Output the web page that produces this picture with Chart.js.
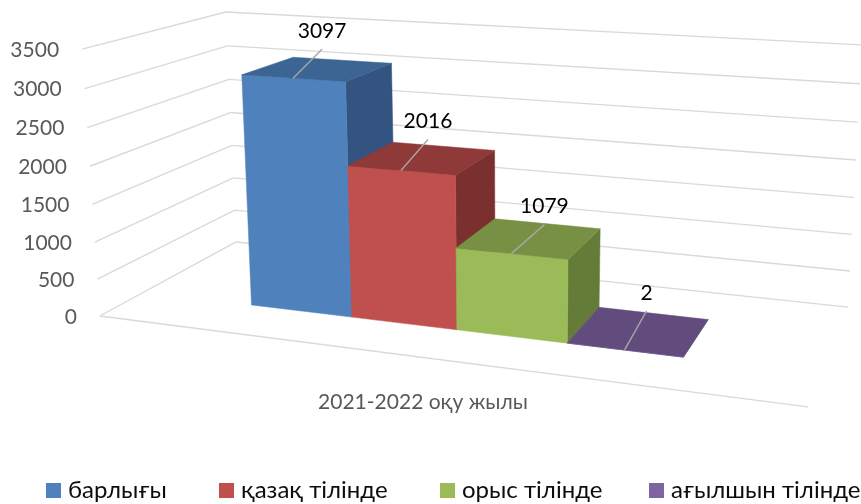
<!DOCTYPE html>
<html>
<head>
<meta charset="utf-8">
<style>
html, body { margin: 0; padding: 0; background: #fff; }
#wrap { width: 861px; height: 504px; }
</style>
<script src="https://cdn.jsdelivr.net/npm/chart.js@4"></script>
</head>
<body>
<div id="wrap"><canvas id="chart" width="861" height="504"></canvas></div>
<script>
var categories = ["2021-2022 оқу жылы"];
var seriesNames = ["барлығы", "қазақ тілінде", "орыс тілінде", "ағылшын тілінде"];
var seriesValues = [3097, 2016, 1079, 2];
var yTicks = [0, 500, 1000, 1500, 2000, 2500, 3000, 3500];

//Styles
var frontColors = ["#4F81BD", "#C0504D", "#9BBB59", "#8064A2"];
var topColors = ["#3D6594", "#8F3A38", "#789043", "#624C7E"];
var sideColors = ["#335481", "#7A302F", "#657C38", "#53406B"];
var leaderOffsets = [[29, -29], [27, -31], [33, -29], [22, -39]];
var legendLefts = [46, 219, 440, 649];
var axisFont = "21px Lato, 'Open Sans', sans-serif";
var labelFont = "21px Lato, 'Open Sans', sans-serif";
var legendFont = "24px Lato, 'Open Sans', sans-serif";

//Camera: cube corners (across, value, depth) seen on screen
var cubeCorners = [
	[0, 0, 0, 100, 316], [1, 0, 0, 808, 407], [0, 1, 0, 82, 49],
	[0, 0, 1, 236, 242], [1, 0, 1, 848, 307], [0, 1, 1, 226, 12], [1, 1, 1, 862, 45]
];
var depthFront = 0.292, depthBack = 0.692;
var acrossFrom = 0, acrossTo = 1;

function solveCamera(points) {
	var n = 11, ata = [], i, j, k;
	for (i = 0; i < n; i++) {
		ata.push([]);
		for (j = 0; j <= n; j++) ata[i].push(0);
	}
	function addRow(row, rhs) {
		for (var a = 0; a < n; a++) {
			for (var b = 0; b < n; b++) ata[a][b] += row[a] * row[b];
			ata[a][n] += row[a] * rhs;
		}
	}
	points.forEach(function (p) {
		addRow([p[0], p[1], p[2], 1, 0, 0, 0, 0, -p[3] * p[0], -p[3] * p[1], -p[3] * p[2]], p[3]);
		addRow([0, 0, 0, 0, p[0], p[1], p[2], 1, -p[4] * p[0], -p[4] * p[1], -p[4] * p[2]], p[4]);
	});
	for (i = 0; i < n; i++) {
		var best = i;
		for (k = i + 1; k < n; k++) if (Math.abs(ata[k][i]) > Math.abs(ata[best][i])) best = k;
		var tmp = ata[i]; ata[i] = ata[best]; ata[best] = tmp;
		for (k = 0; k < n; k++) {
			if (k === i) continue;
			var f = ata[k][i] / ata[i][i];
			for (j = i; j <= n; j++) ata[k][j] -= f * ata[i][j];
		}
	}
	return ata.map(function (row, r) { return row[n] / row[r]; });
}
var cam = solveCamera(cubeCorners);
function project(u, v, w) {
	var d = cam[8] * u + cam[9] * v + cam[10] * w + 1;
	return [(cam[0] * u + cam[1] * v + cam[2] * w + cam[3]) / d, (cam[4] * u + cam[5] * v + cam[6] * w + cam[7]) / d];
}

function face(ctx, color, pts) {
	ctx.fillStyle = color;
	ctx.strokeStyle = color;
	ctx.lineWidth = 0.5;
	ctx.beginPath();
	pts.forEach(function (p, i) { if (i === 0) ctx.moveTo(p[0], p[1]); else ctx.lineTo(p[0], p[1]); });
	ctx.closePath();
	ctx.fill();
	ctx.stroke();
}
function line(ctx, a, b) {
	ctx.beginPath();
	ctx.moveTo(a[0], a[1]);
	ctx.lineTo(b[0], b[1]);
	ctx.stroke();
}

var box3d = {
	id: "box3d",
	beforeDatasetsDraw: function (chart) {
		var ctx = chart.ctx, area = chart.chartArea, yScale = chart.scales.y;
		var toV = function (px) { return (area.bottom - px) / (area.bottom - area.top); };
		var toU = function (px) { return acrossFrom + (px - area.left) / (area.right - area.left) * (acrossTo - acrossFrom); };

		//Walls and floor
		ctx.save();
		ctx.strokeStyle = "#D9D9D9";
		ctx.lineWidth = 1.4;
		yScale.ticks.forEach(function (t) {
			var v = toV(yScale.getPixelForValue(t.value));
			line(ctx, project(0, v, 0), project(0, v, 1));
			line(ctx, project(0, v, 1), project(1, v, 1));
		});
		line(ctx, project(0, 0, 0), project(1, 0, 0));
		ctx.font = axisFont;
		ctx.fillStyle = "#595959";
		ctx.textAlign = "right";
		ctx.textBaseline = "middle";
		yScale.ticks.forEach(function (t) {
			var p = project(0, toV(yScale.getPixelForValue(t.value)), 0);
			ctx.fillText(String(t.value), p[0] - 23, p[1] + 1);
		});

		//Bars, left to right so the next bar covers the side of the last one
		chart.data.datasets.forEach(function (ds, i) {
			var el = chart.getDatasetMeta(i).data[0];
			var u0 = toU(el.x - el.width / 2), u1 = toU(el.x + el.width / 2);
			var v0 = toV(el.base), v1 = toV(el.y);
			face(ctx, sideColors[i], [project(u1, v0, depthFront), project(u1, v0, depthBack), project(u1, v1, depthBack), project(u1, v1, depthFront)]);
			face(ctx, ds.backgroundColor, [project(u0, v0, depthFront), project(u1, v0, depthFront), project(u1, v1, depthFront), project(u0, v1, depthFront)]);
			face(ctx, topColors[i], [project(u0, v1, depthFront), project(u1, v1, depthFront), project(u1, v1, depthBack), project(u0, v1, depthBack)]);
		});

		//Value labels with leader lines
		chart.data.datasets.forEach(function (ds, i) {
			var el = chart.getDatasetMeta(i).data[0];
			var p = project(toU(el.x), toV(el.y), depthFront);
			var q = [p[0] + leaderOffsets[i][0], p[1] + leaderOffsets[i][1]];
			ctx.strokeStyle = "#A6A6A6";
			ctx.lineWidth = 1.4;
			line(ctx, p, q);
			ctx.font = labelFont;
			ctx.fillStyle = "#000";
			ctx.textAlign = "center";
			ctx.textBaseline = "middle";
			ctx.fillText(String(ds.data[0]), q[0], q[1] - 18);
		});

		//Legend
		ctx.font = legendFont;
		ctx.textAlign = "left";
		chart.data.datasets.forEach(function (ds, i) {
			ctx.fillStyle = ds.backgroundColor;
			ctx.fillRect(legendLefts[i], 483, 15, 15);
			ctx.fillStyle = "#0D0D0D";
			ctx.fillText(ds.label, legendLefts[i] + 22, 490);
		});
		ctx.restore();
		return false;
	}
};

var datasets = seriesNames.map(function (name, i) {
	return { label: name, data: [seriesValues[i]], backgroundColor: frontColors[i] };
});

new Chart(document.getElementById("chart"), {
	type: "bar",
	data: { labels: categories, datasets: datasets },
	plugins: [box3d],
	options: {
		responsive: false,
		animation: false,
		layout: { padding: { left: 70, right: 85, top: 50, bottom: 0 } },
		datasets: { bar: { barPercentage: 1, categoryPercentage: 0.64 } },
		plugins: { legend: { display: false }, title: { display: false }, tooltip: { enabled: false } },
		scales: {
			x: {
				grid: { display: false },
				border: { display: false },
				afterFit: function (scale) { scale.height = 189; },
				ticks: { color: "#595959", padding: 67, font: { family: "Lato, 'Open Sans', sans-serif", size: 21 } }
			},
			y: {
				min: 0,
				max: yTicks[yTicks.length - 1],
				grid: { display: false },
				border: { display: false },
				afterFit: function (scale) { scale.width = 0; },
				ticks: { display: false, stepSize: yTicks[1] - yTicks[0] }
			}
		}
	}
});
</script>
</body>
</html>
